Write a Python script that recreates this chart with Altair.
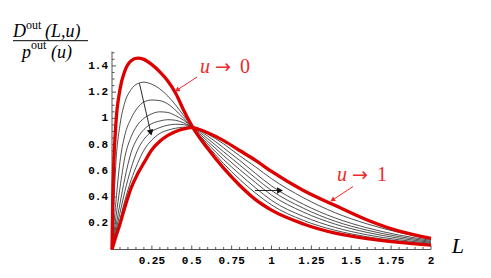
import altair as alt
import pandas as pd

# ---------------- data ----------------
L_grid = [0, 0.005, 0.01, 0.025, 0.05, 0.08, 0.12, 0.16, 0.2, 0.25, 0.3, 0.35, 0.4, 0.45,
          0.5, 0.6, 0.7, 0.8, 0.9, 1.0, 1.2, 1.4, 1.6, 1.8, 2.0]

u_to_0 = [0, 0.40, 0.62, 0.97, 1.22, 1.36, 1.44, 1.46, 1.45, 1.41, 1.355, 1.285, 1.19, 1.06,
          0.945, 0.77, 0.62, 0.49, 0.38, 0.30, 0.195, 0.125, 0.083, 0.055, 0.034]
b1 = [0, 0.16, 0.30, 0.67, 0.95, 1.12, 1.22, 1.265, 1.276, 1.26, 1.225, 1.17, 1.10, 1.02,
      0.94, 0.79, 0.655, 0.535, 0.43, 0.34, 0.222, 0.146, 0.097, 0.064, 0.041]
b2 = [0, 0.08, 0.16, 0.37, 0.67, 0.87, 1.0, 1.08, 1.125, 1.14, 1.135, 1.11, 1.06, 1.0,
      0.935, 0.805, 0.685, 0.575, 0.47, 0.375, 0.252, 0.168, 0.112, 0.074, 0.048]
b3 = [0, 0.05, 0.10, 0.25, 0.47, 0.70, 0.86, 0.95, 1.0, 1.035, 1.05, 1.045, 1.02, 0.985,
      0.935, 0.825, 0.715, 0.61, 0.51, 0.415, 0.285, 0.193, 0.13, 0.086, 0.055]
b4 = [0, 0.035, 0.07, 0.18, 0.35, 0.54, 0.74, 0.85, 0.915, 0.96, 0.98, 0.99, 0.985, 0.965,
      0.935, 0.845, 0.745, 0.645, 0.545, 0.45, 0.315, 0.215, 0.147, 0.098, 0.062]
b5 = [0, 0.027, 0.055, 0.14, 0.28, 0.44, 0.62, 0.757, 0.84, 0.90, 0.93, 0.948, 0.955, 0.952,
      0.935, 0.865, 0.775, 0.68, 0.58, 0.485, 0.345, 0.24, 0.165, 0.11, 0.07]
b6 = [0, 0.022, 0.045, 0.115, 0.23, 0.37, 0.53, 0.655, 0.757, 0.835, 0.885, 0.91, 0.925, 0.933,
      0.935, 0.88, 0.805, 0.715, 0.63, 0.54, 0.395, 0.28, 0.195, 0.13, 0.077]
u_to_1 = [0, 0.02, 0.04, 0.10, 0.195, 0.32, 0.47, 0.575, 0.66, 0.76, 0.825, 0.87, 0.90, 0.92,
          0.93, 0.89, 0.83, 0.755, 0.68, 0.595, 0.45, 0.335, 0.225, 0.14, 0.085]

red_curves = {"u0": u_to_0, "u1": u_to_1}
black_curves = {"b1": b1, "b2": b2, "b3": b3, "b4": b4, "b5": b5, "b6": b6}

x_tick_labels = [0.25, 0.5, 0.75, 1, 1.25, 1.5, 1.75, 2]
x_tick_text = ["0.25", "0.5", "0.75", "1", "1.25", "1.5", "1.75", "2"]
y_tick_labels = [0.2, 0.4, 0.6, 0.8, 1, 1.2, 1.4]
y_tick_text = ["0.2", "0.4", "0.6", "0.8", "1", "1.2", "1.4"]
x_minor = [round(i * 0.05, 2) for i in range(1, 40) if i % 5 != 0]
y_minor = [round(i * 0.05, 2) for i in range(1, 31) if i % 4 != 0]
X_MAX, Y_MAX = 2.0, 1.51

# arrows (start, end of shaft at head centre, head angle in screen degrees)
blk_arrow_x1 = [0.172, 0.897]
blk_arrow_y1 = [1.267, 0.45]
blk_arrow_x2 = [0.243, 1.053]
blk_arrow_y2 = [0.891, 0.45]
blk_arrow_ang = [77, 0]

red_arrow_x1 = [0.533, 1.511]
red_arrow_y1 = [1.315, 0.48]
red_arrow_x2 = [0.408, 1.382]
red_arrow_y2 = [1.216, 0.377]
red_arrow_ang = [146, 147]

# ---------------- tables ----------------
def table(curves):
    rows = []
    for name, vals in curves.items():
        for L, v in zip(L_grid, vals):
            rows.append({"curve": name, "L": L, "v": v})
    return pd.DataFrame(rows)

red_df = table(red_curves)
blk_df = table(black_curves)
blk_arrows = pd.DataFrame({"x1": blk_arrow_x1, "y1": blk_arrow_y1, "x2": blk_arrow_x2,
                           "y2": blk_arrow_y2, "ang": blk_arrow_ang})
red_arrows = pd.DataFrame({"x1": red_arrow_x1, "y1": red_arrow_y1, "x2": red_arrow_x2,
                           "y2": red_arrow_y2, "ang": red_arrow_ang})
one = pd.DataFrame({"k": [0]})

W, H = 319, 198
xs = alt.Scale(domain=[0, X_MAX], nice=False, zero=False)
ys = alt.Scale(domain=[0, Y_MAX], nice=False, zero=False)
RED = "#dd0000"
TRED = "#ee2a2a"
AX = "#555555"

def X(f):
    return alt.X(f, scale=xs, axis=None)

def Y(f):
    return alt.Y(f, scale=ys, axis=None)

black_lines = alt.Chart(blk_df).mark_line(color="#222222", strokeWidth=0.8,
                                          interpolate="monotone").encode(
    x=X("L:Q"), y=Y("v:Q"), detail="curve:N")
red_lines = alt.Chart(red_df).mark_line(color=RED, strokeWidth=3.3,
                                        interpolate="monotone").encode(
    x=X("L:Q"), y=Y("v:Q"), detail="curve:N")

# axes drawn by hand (lines, inward ticks, labels)
x_axis_line = alt.Chart(pd.DataFrame({"a": [0], "b": [X_MAX], "y": [0]})).mark_rule(
    color=AX, strokeWidth=1).encode(x=X("a:Q"), x2="b:Q", y=Y("y:Q"))
y_axis_line = alt.Chart(pd.DataFrame({"x": [0], "a": [0], "b": [Y_MAX]})).mark_rule(
    color=AX, strokeWidth=1).encode(x=X("x:Q"), y=Y("a:Q"), y2="b:Q")

def xticks(vals, ln):
    return alt.Chart(pd.DataFrame({"t": vals})).mark_rule(color=AX, strokeWidth=1).encode(
        x=X("t:Q"), y=alt.value(H), y2=alt.value(H - ln))

def yticks(vals, ln):
    return alt.Chart(pd.DataFrame({"t": vals})).mark_rule(color=AX, strokeWidth=1).encode(
        y=Y("t:Q"), x=alt.value(0), x2=alt.value(ln))

x_labels = alt.Chart(pd.DataFrame({"t": x_tick_labels, "s": x_tick_text})).mark_text(
    font="Liberation Mono", fontWeight="bold", fontSize=11, color="black",
    align="center", baseline="top").encode(x=X("t:Q"), y=alt.value(H + 5), text="s:N")
y_labels = alt.Chart(pd.DataFrame({"t": y_tick_labels, "s": y_tick_text})).mark_text(
    font="Liberation Mono", fontWeight="bold", fontSize=11, color="black",
    align="right", baseline="middle").encode(y=Y("t:Q"), x=alt.value(-4), text="s:N")

def arrows(df, color, width, size):
    shaft = alt.Chart(df).mark_rule(color=color, strokeWidth=width).encode(
        x=X("x1:Q"), y=Y("y1:Q"), x2="x2:Q", y2="y2:Q")
    head = alt.Chart(df).mark_point(shape="triangle-right", filled=True, color=color,
                                    size=size, opacity=1).encode(
        x=X("x2:Q"), y=Y("y2:Q"), angle=alt.Angle("ang:Q", scale=None))
    return shaft + head

def dtext(text, x, y, size, italic=False, color="black", dx=0, font="Liberation Serif"):
    return alt.Chart(pd.DataFrame({"x": [x], "y": [y]})).mark_text(
        text=text, font=font, fontSize=size,
        fontStyle="italic" if italic else "normal",
        color=color, align="left", baseline="alphabetic", dx=dx).encode(
        x=X("x:Q"), y=Y("y:Q"))

def ptext(text, x, y, size, italic=False):
    return alt.Chart(one).mark_text(text=text, font="Liberation Serif", fontSize=size,
                                    fontStyle="italic" if italic else "normal",
                                    color="black", align="left",
                                    baseline="alphabetic").encode(
        x=alt.value(x), y=alt.value(y))

frac_bar = alt.Chart(one).mark_rule(color="black", strokeWidth=1).encode(
    x=alt.value(-99), x2=alt.value(-24), y=alt.value(-10.8))

layers = [
    black_lines,
    x_axis_line, y_axis_line,
    xticks(x_tick_labels, 4), xticks(x_minor, 2.5),
    yticks(y_tick_labels, 4), yticks(y_minor, 2.5),
    x_labels, y_labels,
    red_lines,
    arrows(blk_arrows, "#111111", 0.9, 45),
    arrows(red_arrows, TRED, 1.0, 30),
    dtext("u", 0.552, 1.348, 20, italic=True, color=TRED),
    dtext("→", 0.552, 1.348, 19, color=TRED, dx=15, font="DejaVu Sans"),
    dtext("0", 0.552, 1.348, 20, color=TRED, dx=40),
    dtext("u", 1.411, 0.525, 20, italic=True, color=TRED),
    dtext("→", 1.411, 0.525, 19, color=TRED, dx=15, font="DejaVu Sans"),
    dtext("1", 1.411, 0.525, 20, color=TRED, dx=40),
    dtext("L", 2.13, -0.029, 22, italic=True),
    ptext("D", -99, -14.2, 18, italic=True),
    ptext("out", -86, -22.5, 12),
    ptext("(L,u)", -67, -14.2, 18, italic=True),
    frac_bar,
    ptext("p", -90, 6.8, 18, italic=True),
    ptext("out", -81, -2.2, 12),
    ptext("(u)", -61, 6.8, 18, italic=True),
]

chart = alt.layer(*layers).properties(
    width=W, height=H,
    autosize=alt.AutoSizeParams(type="none"),
    padding={"left": 104, "top": 43.5, "right": 52, "bottom": 22},
).configure_view(stroke=None)

chart.save("out.html", embed_options={"renderer": "svg", "actions": False})
